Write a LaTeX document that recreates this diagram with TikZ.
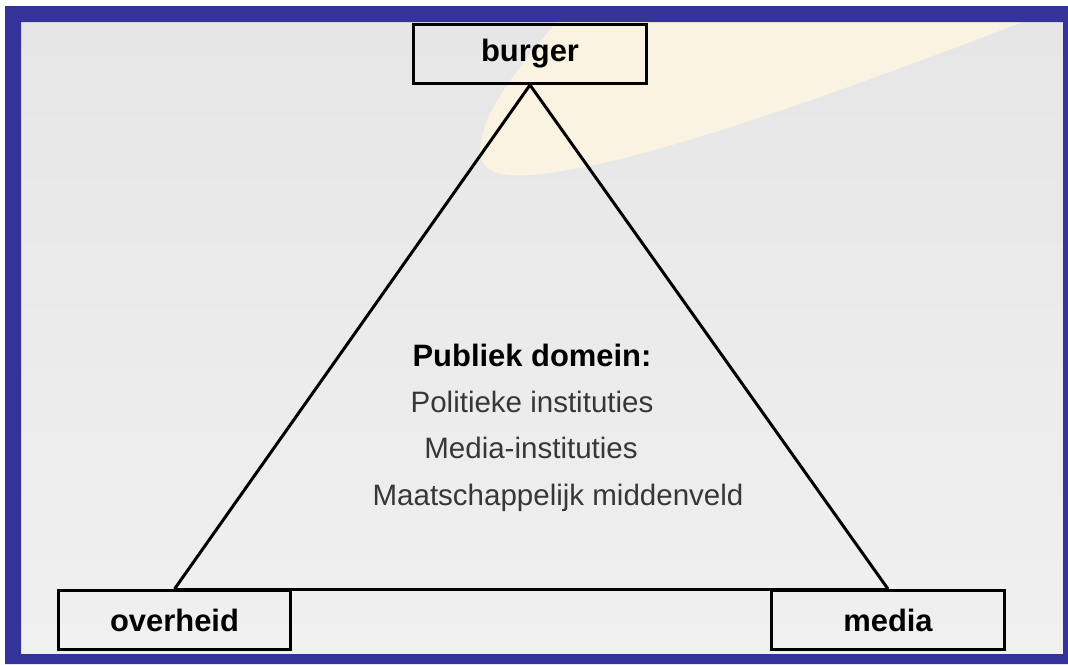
\documentclass[tikz,border=0pt]{standalone}
\usepackage{fontspec}
\setmainfont{Liberation Sans}
\definecolor{framebl}{RGB}{51,51,153}
\definecolor{cream}{RGB}{250,243,225}
\definecolor{bgtop}{RGB}{230,230,230}
\definecolor{bgbot}{RGB}{240,240,240}
\definecolor{txtgray}{RGB}{55,55,55}
\begin{document}
\begin{tikzpicture}[
	x = 0.02cm, y = -0.02cm,  % one unit is one pixel of the slide
	actor/.style = {draw, rectangle, line width=1.7pt, inner sep=0pt,
		minimum width=4.66cm, minimum height=1.18cm,
		font=\fontsize{17.6}{21}\selectfont\bfseries},
	edge/.style = {line width=1.7pt},
	head/.style = {anchor=base, font=\fontsize{17.6}{21}\selectfont\bfseries},
	item/.style = {anchor=base, text=txtgray, font=\fontsize{16.8}{20}\selectfont}
	]
	\useasboundingbox (0,0) rectangle (1068,664);

	% slide background
	\shade[top color=bgtop, bottom color=bgbot] (21,22) rectangle (1063,654);
	\begin{scope}
	\clip (21,22) rectangle (1063,654);
	\fill[cream] (590,-20) .. controls (545,40) and (482,100) .. (480,150)
		.. controls (480,172) and (500,177) .. (530,175)
		.. controls (620,168) and (780,115) .. (1023,22)
		-- (1100,-20) -- cycle;
	\end{scope}
	\fill[framebl, even odd rule] (5,6) rectangle (1068,664) (21,22) rectangle (1063,654);

	% triangle
	\node[actor] (burger) at (530,54) {burger};
	\node[actor] (overheid) at (174.5,620) {overheid};
	\node[actor] (media) at (888,620) {media};

	\draw[edge] (burger.south) -- (overheid.north);
	\draw[edge] (burger.south) -- (media.north);
	\draw[edge] (overheid.north) -- (media.north);

	% text in the middle
	\node[head] (publiek) at (532,366) {Publiek domein:};
	\node[item] (politiek) at (532,412) {Politieke instituties};
	\node[item] (mediainst) at (531,458) {Media-instituties};
	\node[item] (middenveld) at (558,505) {Maatschappelijk middenveld};
\end{tikzpicture}
\end{document}
